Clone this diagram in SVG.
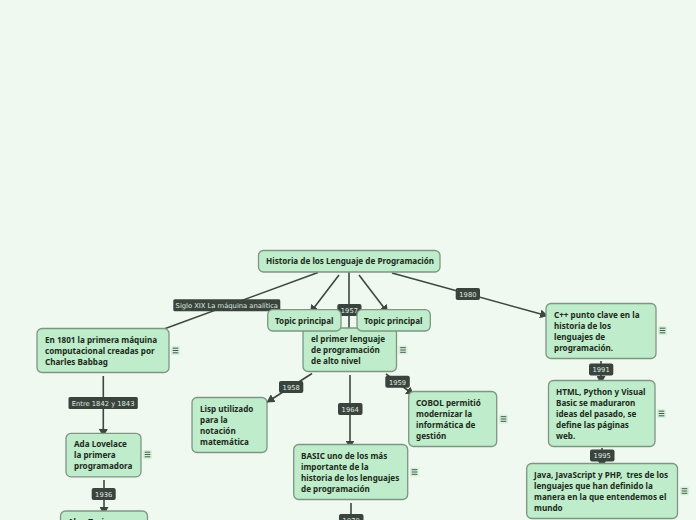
<svg xmlns="http://www.w3.org/2000/svg" width="696" height="520" viewBox="0 0 696 520">
<style>
.n{fill:#bfecca;stroke:#7d9684;stroke-width:1.3}
.t{font:700 8.12px "Noto Sans",sans-serif;fill:#1c2a20}
.c{stroke:#3c483f;stroke-width:1.6;fill:none}
.lb{fill:#3a443c}
.lt{font:6.75px "DejaVu Sans",sans-serif;fill:#dfe8e1;text-anchor:middle}
.nb{fill:#d3f2da}
.nl{stroke:#3a443c;stroke-width:.9;fill:none}
</style>
<defs>
<marker id="a" markerUnits="userSpaceOnUse" markerWidth="9" markerHeight="9" refX="8" refY="4.500" orient="auto"><path d="M0 0L8 4.500L0 9z" fill="#3c483f"/></marker>
<g id="m"><rect x="-4.500" y="-4.500" width="9" height="9" rx="1.500" class="nb"/><path d="M-2.800-2.300h5.600M-2.800 0h5.600M-2.800 2.300h5.600" class="nl"/></g>
</defs>
<rect width="696" height="520" fill="#f0f9ef"/>
<g id="connectors">
<path class="c" d="M318 272.500L164 329"/>
<path class="c" d="M339 275L310 313" marker-end="url(#a)"/>
<path class="c" d="M349 272V329"/>
<path class="c" d="M359 275L388 313" marker-end="url(#a)"/>
<path class="c" d="M392 273L548 316" marker-end="url(#a)"/>
<path class="c" d="M103.300 376V437" marker-end="url(#a)"/>
<path class="c" d="M104 480V515" marker-end="url(#a)"/>
<path class="c" d="M312 373.500L266.500 402.500" marker-end="url(#a)"/>
<path class="c" d="M350 375V448.500" marker-end="url(#a)"/>
<path class="c" d="M386 374L414 395" marker-end="url(#a)"/>
<path class="c" d="M351 503V516"/>
<path class="c" d="M601 361V384" marker-end="url(#a)"/>
<path class="c" d="M602 448V468" marker-end="url(#a)"/>
</g>
<g id="l1"><rect class="lb" x="173.300" y="299.300" width="107" height="12" rx="1.500"/><text class="lt" x="226.800" y="308">Siglo XIX La máquina analítica</text></g>
<g id="l2"><rect class="lb" x="337.300" y="304" width="24.200" height="12" rx="2"/><text class="lt" x="349.400" y="312.700">1957</text></g>
<g id="l3"><rect class="lb" x="455.700" y="288" width="24.300" height="12" rx="2"/><text class="lt" x="467.900" y="296.700">1980</text></g>
<g id="l4"><rect class="lb" x="68.500" y="397" width="69.300" height="12" rx="1.500"/><text class="lt" x="103.100" y="405.700">Entre 1842 y 1843</text></g>
<g id="l5"><rect class="lb" x="91.700" y="488" width="24" height="12" rx="2"/><text class="lt" x="103.700" y="496.700">1936</text></g>
<g id="l6"><rect class="lb" x="279" y="381" width="24.300" height="12" rx="2"/><text class="lt" x="291.200" y="389.700">1958</text></g>
<g id="l7"><rect class="lb" x="338" y="403" width="24.500" height="12" rx="2"/><text class="lt" x="350.200" y="411.700">1964</text></g>
<g id="l8"><rect class="lb" x="385.300" y="375.800" width="24.500" height="12" rx="2"/><text class="lt" x="397.500" y="384.500">1959</text></g>
<g id="l9"><rect class="lb" x="339" y="514" width="24.500" height="12" rx="2"/><text class="lt" x="351.200" y="522.700">1970</text></g>
<g id="l10"><rect class="lb" x="589" y="363.500" width="24.300" height="12" rx="2"/><text class="lt" x="601.100" y="372.200">1991</text></g>
<g id="l11"><rect class="lb" x="590" y="449.500" width="24.500" height="12" rx="2"/><text class="lt" x="602.200" y="458.200">1995</text></g>
<g id="primer"><rect class="n" x="303" y="328" width="93.500" height="43.500" rx="5"/><text class="t"><tspan x="311" y="342">el primer lenguaje</tspan><tspan x="311" y="353">de programación</tspan><tspan x="311" y="364">de alto nivel</tspan></text><use href="#m" x="403" y="350"/></g>
<g id="root"><rect class="n" x="258.500" y="250.500" width="181.500" height="21.500" rx="5"/><text class="t" x="266" y="264">Historia de los Lenguaje de Programación</text></g>
<g id="topic1"><rect class="n" x="267.700" y="309.700" width="73.300" height="21.300" rx="5"/><text class="t" x="275" y="324">Topic principal</text></g>
<g id="topic2"><rect class="n" x="357" y="309.700" width="73.300" height="21.300" rx="5"/><text class="t" x="364" y="324">Topic principal</text></g>
<g id="babbag"><rect class="n" x="37" y="328.500" width="132" height="44" rx="5"/><text class="t"><tspan x="45" y="343">En 1801 la primera máquina</tspan><tspan x="45" y="354">computacional creadas por</tspan><tspan x="45" y="365">Charles Babbag</tspan></text><use href="#m" x="175.500" y="350.500"/></g>
<g id="ada"><rect class="n" x="66" y="433.300" width="75" height="43.500" rx="5"/><text class="t"><tspan x="74" y="447">Ada Lovelace</tspan><tspan x="74" y="458">la primera</tspan><tspan x="74" y="469">programadora</tspan></text><use href="#m" x="147.500" y="454.500"/></g>
<g id="alan"><rect class="n" x="60.500" y="511" width="87" height="44" rx="5"/><text class="t" x="68" y="525">Alan Turing</text></g>
<g id="lisp"><rect class="n" x="192" y="397.500" width="75" height="55" rx="5"/><text class="t"><tspan x="200" y="412">Lisp utilizado</tspan><tspan x="200" y="423">para la</tspan><tspan x="200" y="434">notación</tspan><tspan x="200" y="445">matemática</tspan></text></g>
<g id="cobol"><rect class="n" x="408.700" y="391.500" width="88" height="55" rx="5"/><text class="t"><tspan x="416" y="406">COBOL permitió</tspan><tspan x="416" y="417">modernizar la</tspan><tspan x="416" y="428">informática de</tspan><tspan x="416" y="439">gestión</tspan></text><use href="#m" x="503.500" y="419"/></g>
<g id="basic"><rect class="n" x="293.700" y="444.500" width="114" height="55" rx="5"/><text class="t"><tspan x="301" y="459">BASIC uno de los más</tspan><tspan x="301" y="470">importante de la</tspan><tspan x="301" y="481">historia de los lenguajes</tspan><tspan x="301" y="492">de programación</tspan></text><use href="#m" x="414.500" y="472"/></g>
<g id="cpp"><rect class="n" x="546" y="303.500" width="110" height="55" rx="5"/><text class="t"><tspan x="554" y="318">C++ punto clave en la</tspan><tspan x="554" y="329">historia de los</tspan><tspan x="554" y="340">lenguajes de</tspan><tspan x="554" y="351">programación.</tspan></text><use href="#m" x="662.500" y="330.500"/></g>
<g id="html"><rect class="n" x="548.500" y="380.500" width="106.500" height="66" rx="5"/><text class="t"><tspan x="556" y="395">HTML, Python y Visual</tspan><tspan x="556" y="406">Basic se maduraron</tspan><tspan x="556" y="417">ideas del pasado, se</tspan><tspan x="556" y="428">define las páginas</tspan><tspan x="556" y="439">web.</tspan></text><use href="#m" x="661.500" y="413.500"/></g>
<g id="java"><rect class="n" x="526.700" y="463.500" width="150.800" height="55" rx="5"/><text class="t" xml:space="preserve"><tspan x="534" y="478">Java, JavaScript y PHP,  tres de los</tspan><tspan x="534" y="489">lenguajes que han definido la</tspan><tspan x="534" y="500">manera en la que entendemos el</tspan><tspan x="534" y="511">mundo</tspan></text><use href="#m" x="684.500" y="491"/></g>
</svg>
